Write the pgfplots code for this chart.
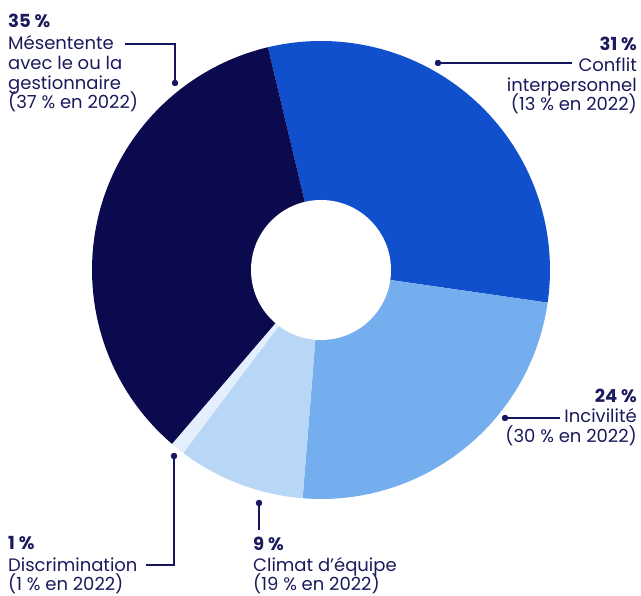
\documentclass[border=0pt]{standalone}
\usepackage{fontspec}
\setmainfont{Poppins}
\usepackage{pgfplots}
\pgfplotsset{compat=1.18}
\definecolor{cnavy}{HTML}{0C0A4F}
\definecolor{cblue}{HTML}{1150CC}
\definecolor{clight}{HTML}{74AEEE}
\definecolor{cpale}{HTML}{B8D6F6}
\definecolor{cpalest}{HTML}{E3EFFC}
\definecolor{ctext}{HTML}{1A1A5C}
\definecolor{cline}{HTML}{16165E}
% slice values (percent), clockwise from the top
\def\vConflit{31}
\def\vIncivilite{24}
\def\vClimat{9}
\def\vDiscrim{1}
\def\vMesentente{35}
\pgfmathsetmacro\aA{103.4}
\pgfmathsetmacro\aB{\aA-3.6*\vConflit}
\pgfmathsetmacro\aC{\aB-3.6*\vIncivilite}
\pgfmathsetmacro\aD{\aC-3.6*\vClimat}
\pgfmathsetmacro\aE{\aD-3.6*\vDiscrim}
\pgfmathsetmacro\aF{\aE-3.6*\vMesentente}
\newcommand\lab[4]{\node[anchor=#3, inner sep=0pt, text=ctext, font=\fontsize{18}{20}\selectfont] at (axis cs:#1,#2) {#4};}
\begin{document}
\begin{tikzpicture}
\begin{axis}[
  scale only axis, width=641pt, height=596pt,
  xmin=0, xmax=641, ymin=0, ymax=596,
  hide axis, clip=false,
]
% donut slices
\fill[cblue]   (axis cs:321,326) -- ++(\aA:229pt) arc[start angle=\aA, end angle=\aB, radius=229pt] -- cycle;
\fill[clight]  (axis cs:321,326) -- ++(\aB:229pt) arc[start angle=\aB, end angle=\aC, radius=229pt] -- cycle;
\fill[cpale]   (axis cs:321,326) -- ++(\aC:229pt) arc[start angle=\aC, end angle=\aD, radius=229pt] -- cycle;
\fill[cpalest] (axis cs:321,326) -- ++(\aD:229pt) arc[start angle=\aD, end angle=\aE, radius=229pt] -- cycle;
\fill[cnavy]   (axis cs:321,326) -- ++(\aE:229pt) arc[start angle=\aE, end angle=\aF, radius=229pt] -- cycle;
\fill[white]   (axis cs:321,326) circle[radius=70pt];
% leader lines
\addplot[cline, line width=1.3pt] coordinates {(125,552) (175,552) (175,513)};
\addplot[cline, line width=1.3pt] coordinates {(438,533) (572,533)};
\addplot[cline, line width=1.3pt] coordinates {(505,178) (560,178)};
\addplot[cline, line width=1.3pt] coordinates {(174,140) (174,31) (146,31)};
\addplot[cline, line width=1.3pt] coordinates {(259,93) (259,66)};
\addplot[only marks, mark=*, mark size=3pt, cline] coordinates {(175,513) (438,533) (505,178) (174,140) (259,93)};
% labels
\lab{8}{568}{base west}{\textbf{35 \%}}
\lab{8}{546}{base west}{Mésentente}
\lab{8}{526}{base west}{avec le ou la}
\lab{8}{506}{base west}{gestionnaire}
\lab{8}{487}{base west}{(37 \% en 2022)}
\lab{637}{545}{base east}{\textbf{31 \%}}
\lab{637}{524}{base east}{Conflit}
\lab{637}{504}{base east}{interpersonnel}
\lab{637}{485}{base east}{(13 \% en 2022)}
\lab{637}{193}{base east}{\textbf{24 \%}}
\lab{637}{173}{base east}{Incivilité}
\lab{637}{153}{base east}{(30 \% en 2022)}
\lab{8}{46}{base west}{\textbf{1 \%}}
\lab{8}{24}{base west}{Discrimination}
\lab{8}{5}{base west}{(1 \% en 2022)}
\lab{253}{45}{base west}{\textbf{9 \%}}
\lab{253}{24}{base west}{Climat d’équipe}
\lab{253}{5}{base west}{(19 \% en 2022)}
\end{axis}
\pgfresetboundingbox
\useasboundingbox (0,0) rectangle (641pt,596pt);
\end{tikzpicture}
\end{document}
